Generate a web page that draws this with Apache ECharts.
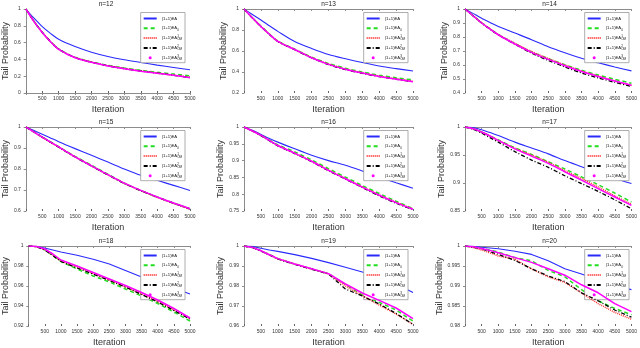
<!DOCTYPE html>
<html><head><meta charset="utf-8">
<script src="https://cdn.jsdelivr.net/npm/echarts@6/dist/echarts.min.js"></script>
<style>html,body{margin:0;padding:0;background:#fff}#c{width:640px;height:348px}</style>
</head><body><div id="c"></div>
<script>
// ---------- data ----------
const iterations = [0,250,500,750,1000,1500,2000,2500,3000,3500,4000,4500,5000];
const xTicks = [500,1000,1500,2000,2500,3000,3500,4000,4500,5000];
const panelTitles = ['n=12','n=13','n=14','n=15','n=16','n=17','n=18','n=19','n=20'];
const yMins  = [0, 0.2, 0.4, 0.6, 0.75, 0.85, 0.92, 0.96, 0.98];
const yMaxs  = [1, 1, 1, 1, 1, 1, 1, 1, 1];
const ySteps = [0.2, 0.2, 0.1, 0.1, 0.05, 0.05, 0.02, 0.01, 0.005];
const legendNames = ['(1+1)EA','(1+1)EA0','(1+1)EA1OM','(1+1)EA2OM','(1+1)EA3OM'];

const n12_ea  = [1,0.89,0.79,0.71,0.64,0.553,0.486,0.435,0.395,0.364,0.332,0.304,0.277];
const n12_ea0 = [1,0.853,0.723,0.614,0.524,0.425,0.37,0.33,0.297,0.27,0.247,0.225,0.205];
const n12_om1 = [1,0.851,0.721,0.611,0.521,0.423,0.367,0.325,0.291,0.263,0.238,0.213,0.187];
const n12_om2 = [1,0.852,0.722,0.612,0.522,0.422,0.366,0.323,0.289,0.261,0.236,0.211,0.185];
const n12_om3 = [1,0.85,0.72,0.61,0.52,0.42,0.365,0.322,0.288,0.26,0.235,0.21,0.182];

const n13_ea  = [1,0.948,0.896,0.84,0.787,0.69,0.624,0.567,0.526,0.49,0.457,0.432,0.41];
const n13_ea0 = [1,0.916,0.836,0.762,0.695,0.618,0.542,0.482,0.436,0.4,0.37,0.345,0.325];
const n13_om1 = [1,0.916,0.835,0.761,0.693,0.615,0.538,0.476,0.429,0.393,0.361,0.335,0.311];
const n13_om2 = [1,0.914,0.833,0.759,0.69,0.612,0.534,0.47,0.423,0.387,0.356,0.331,0.308];
const n13_om3 = [1,0.915,0.834,0.76,0.692,0.614,0.536,0.473,0.426,0.39,0.358,0.332,0.308];

const n14_ea  = [1,0.967,0.934,0.904,0.875,0.828,0.781,0.73,0.687,0.648,0.616,0.586,0.558];
const n14_ea0 = [1,0.951,0.902,0.859,0.818,0.753,0.694,0.646,0.602,0.563,0.529,0.498,0.47];
const n14_om1 = [1,0.951,0.901,0.858,0.818,0.755,0.696,0.647,0.6,0.557,0.521,0.487,0.453];
const n14_om2 = [1,0.95,0.9,0.856,0.815,0.748,0.685,0.633,0.586,0.543,0.508,0.476,0.447];
const n14_om3 = [1,0.95,0.9,0.857,0.816,0.75,0.69,0.64,0.595,0.553,0.518,0.485,0.456];

const n15_ea  = [1,0.983,0.966,0.948,0.93,0.897,0.865,0.833,0.8,0.77,0.746,0.722,0.698];
const n15_ea0 = [1,0.976,0.952,0.929,0.906,0.86,0.818,0.775,0.733,0.698,0.667,0.638,0.611];
const n15_om1 = [1,0.976,0.951,0.927,0.904,0.857,0.815,0.772,0.732,0.697,0.665,0.636,0.608];
const n15_om2 = [1,0.976,0.952,0.928,0.904,0.857,0.814,0.772,0.731,0.697,0.666,0.637,0.61];
const n15_om3 = [1,0.976,0.952,0.928,0.905,0.858,0.815,0.773,0.733,0.698,0.667,0.638,0.611];

const n16_ea  = [1,0.99,0.978,0.966,0.955,0.935,0.916,0.9,0.886,0.869,0.851,0.834,0.818];
const n16_ea0 = [1,0.988,0.975,0.961,0.947,0.926,0.902,0.876,0.851,0.826,0.802,0.779,0.757];
const n16_om1 = [1,0.988,0.975,0.96,0.945,0.922,0.898,0.872,0.847,0.822,0.798,0.776,0.756];
const n16_om2 = [1,0.988,0.974,0.959,0.944,0.921,0.897,0.87,0.845,0.82,0.795,0.773,0.754];
const n16_om3 = [1,0.988,0.975,0.96,0.945,0.922,0.898,0.871,0.846,0.821,0.797,0.775,0.755];

const n17_ea  = [1,0.999,0.995,0.99,0.985,0.973,0.9625,0.952,0.94,0.929,0.918,0.908,0.899];
const n17_ea0 = [1,0.997,0.991,0.984,0.977,0.963,0.951,0.938,0.925,0.911,0.897,0.882,0.866];
const n17_om1 = [1,0.997,0.991,0.984,0.976,0.962,0.95,0.937,0.922,0.908,0.893,0.877,0.862];
const n17_om2 = [1,0.996,0.989,0.981,0.973,0.956,0.941,0.928,0.913,0.899,0.885,0.87,0.854];
const n17_om3 = [1,0.997,0.991,0.984,0.976,0.961,0.948,0.935,0.92,0.905,0.89,0.875,0.86];

const n18_ea  = [1,0.9995,0.998,0.996,0.994,0.9908,0.9867,0.982,0.9756,0.969,0.964,0.958,0.952];
const n18_ea0 = [1,0.9994,0.9962,0.9905,0.9845,0.977,0.970,0.964,0.957,0.950,0.9425,0.934,0.925];
const n18_om1 = [1,0.9994,0.9965,0.991,0.985,0.979,0.9725,0.966,0.959,0.952,0.9445,0.936,0.9275];
const n18_om2 = [1,0.9993,0.996,0.9905,0.9845,0.978,0.972,0.9655,0.959,0.9515,0.944,0.9355,0.927];
const n18_om3 = [1,0.9995,0.997,0.992,0.986,0.98,0.9735,0.967,0.9605,0.9535,0.946,0.9375,0.928];

const n19_ea  = [1,0.9998,0.9989,0.998,0.9973,0.9957,0.9938,0.9917,0.9894,0.987,0.9845,0.981,0.9767];
const n19_ea0 = [1,0.9993,0.9977,0.9957,0.9937,0.991,0.9886,0.9862,0.9808,0.9755,0.9718,0.968,0.9624];
const n19_om1 = [1,0.9993,0.9976,0.9956,0.9936,0.991,0.9885,0.9861,0.98,0.9752,0.9705,0.966,0.9608];
const n19_om2 = [1,0.9992,0.9975,0.9955,0.9935,0.9908,0.9884,0.986,0.9785,0.975,0.971,0.9663,0.9608];
const n19_om3 = [1,0.9993,0.9976,0.9956,0.9937,0.991,0.9886,0.9862,0.981,0.9765,0.9728,0.969,0.9637];

const n20_ea  = [1,0.9999,0.9997,0.9995,0.9993,0.9987,0.9979,0.9963,0.9943,0.993,0.9915,0.990,0.9891];
const n20_ea0 = [1,0.9998,0.9994,0.999,0.9985,0.9971,0.9963,0.9939,0.9923,0.9891,0.9863,0.9844,0.9828];
const n20_om1 = [1,0.9996,0.999,0.9983,0.9975,0.9967,0.9943,0.9923,0.9909,0.9883,0.9856,0.9834,0.9817];
const n20_om2 = [1,0.9997,0.9993,0.9986,0.9979,0.9964,0.9943,0.9925,0.9911,0.9883,0.9863,0.984,0.9822];
const n20_om3 = [1,0.9998,0.9994,0.9989,0.9983,0.9971,0.9959,0.9943,0.9927,0.9903,0.9883,0.9856,0.9836];

const panelSeries = [
  [n12_ea,n12_ea0,n12_om1,n12_om2,n12_om3],
  [n13_ea,n13_ea0,n13_om1,n13_om2,n13_om3],
  [n14_ea,n14_ea0,n14_om1,n14_om2,n14_om3],
  [n15_ea,n15_ea0,n15_om1,n15_om2,n15_om3],
  [n16_ea,n16_ea0,n16_om1,n16_om2,n16_om3],
  [n17_ea,n17_ea0,n17_om1,n17_om2,n17_om3],
  [n18_ea,n18_ea0,n18_om1,n18_om2,n18_om3],
  [n19_ea,n19_ea0,n19_om1,n19_om2,n19_om3],
  [n20_ea,n20_ea0,n20_om1,n20_om2,n20_om3]
];

// ---------- layout / style ----------
const FONT = 'Liberation Sans, Arial, sans-serif';
const colLeft = [22, 244, 465];
const colWidth = [168, 169, 169];
const rowTop = [9, 127, 246];
const plotH = 84;
const yNameGap = [11, 12, 12];

const styles = [
  {color:'#2a2aff', width:1.1, type:'solid'},
  {color:'#22dd22', width:1.5, type:[4,3]},
  {color:'#ff3030', width:1.5, type:[1,1]},
  {color:'#000000', width:1.3, type:[4,2,1,2]},
  {color:'#ff00ff', width:1.5, type:'solid'}
];

function fmtNum(v){ return String(parseFloat(v.toFixed(4))); }

const grid=[], xAxis=[], yAxis=[], series=[], title=[], legend=[];
for (let p=0;p<9;p++){
  const r=Math.floor(p/3), c=p%3;
  const L=colLeft[c], W=colWidth[c], T=rowTop[r];
  grid.push({left:L, top:T, width:W, height:plotH, containLabel:false});
  const xb = xAxis.length;
  xAxis.push({type:'value', gridIndex:p, min:0, max:5000, interval:500, position:'bottom',
    axisLine:{show:false},
    axisTick:{show:true, inside:true, length:2, lineStyle:{color:'#666'}},
    axisLabel:{fontSize:5, color:'#333', fontFamily:FONT, margin:3.5,
      formatter:v=> xTicks.indexOf(v)>=0 ? String(v) : ''},
    splitLine:{show:false},
    name:'Iteration', nameLocation:'middle', nameGap:12,
    nameTextStyle:{fontSize:9, color:'#333', fontFamily:FONT}});
  xAxis.push({type:'value', gridIndex:p, min:0, max:5000, interval:500, position:'top',
    axisLine:{show:true, lineStyle:{color:'#8c8c8c', width:1}},
    axisTick:{show:true, inside:true, length:2, lineStyle:{color:'#8c8c8c'}},
    axisLabel:{show:false}, splitLine:{show:false}});
  const yb = yAxis.length;
  yAxis.push({type:'value', gridIndex:p, min:yMins[p], max:yMaxs[p], interval:ySteps[p], position:'left',
    axisLine:{show:false},
    axisTick:{show:true, inside:false, length:2, lineStyle:{color:'#666'}},
    axisLabel:{fontSize:5, color:'#333', fontFamily:FONT, margin:5, formatter:fmtNum},
    splitLine:{show:false},
    name:'Tail Probability', nameLocation:'middle', nameGap:yNameGap[c],
    nameTextStyle:{fontSize:9, color:'#333', fontFamily:FONT}});
  yAxis.push({type:'value', gridIndex:p, min:yMins[p], max:yMaxs[p], interval:ySteps[p], position:'right',
    axisLine:{show:true, lineStyle:{color:'#8c8c8c', width:1}},
    axisTick:{show:true, inside:true, length:2, lineStyle:{color:'#8c8c8c'}},
    axisLabel:{show:false}, splitLine:{show:false}});
  title.push({text:panelTitles[p], left:L+W/2, top:T-8, textAlign:'center', padding:0,
    textStyle:{fontSize:6.5, fontWeight:'normal', color:'#222', fontFamily:FONT}});
  legend.push({orient:'vertical', right:640-(L+W)+5, top:T+3.5,
    backgroundColor:'#fff', borderColor:'#999', borderWidth:0.8,
    padding:[3,3,2,2], itemGap:3.8, itemWidth:13, itemHeight:3,
    selectedMode:false,
    data:legendNames.map((n,i)=> i===4
      ? {name:n, icon:'circle', lineStyle:{opacity:0}, itemStyle:{opacity:1}}
      : {name:n, itemStyle:{opacity:0}}),
    formatter:function(name){
      if (name==='(1+1)EA') return '{b|(1+1)EA}';
      if (name==='(1+1)EA0') return '{b|(1+1)EA}{sub|0}';
      const k = name.charAt(7);
      return '{b|(1+1)EA}{sup|'+k+'}{sub|OM}';
    },
    textStyle:{fontSize:4, color:'#111', fontFamily:FONT, lineHeight:6,
      rich:{
        b:{fontSize:4.2, fontFamily:FONT, color:'#111', lineHeight:6},
        sub:{fontSize:3, fontFamily:FONT, color:'#111', verticalAlign:'bottom', lineHeight:6},
        sup:{fontSize:3, fontFamily:FONT, color:'#111', verticalAlign:'top', lineHeight:6, width:0.01}
      }}
  });
  const smooth = p < 6 ? 0.3 : false;
  panelSeries[p].forEach((arr,i)=>{
    series.push({type:'line', name:legendNames[i], xAxisIndex:xb, yAxisIndex:yb,
      data: iterations.map((x,k)=>[x, arr[k]]),
      symbol:'none', smooth:smooth, silent:true, animation:false,
      color:styles[i].color,
      lineStyle:{color:styles[i].color, width:styles[i].width, type:styles[i].type},
      z: 2+i});
  });
}

const chart = echarts.init(document.getElementById('c'), null, {renderer:'canvas'});
chart.setOption({animation:false, backgroundColor:'#fff', grid, xAxis, yAxis, series, title, legend, tooltip:{show:false}});
</script></body></html>
